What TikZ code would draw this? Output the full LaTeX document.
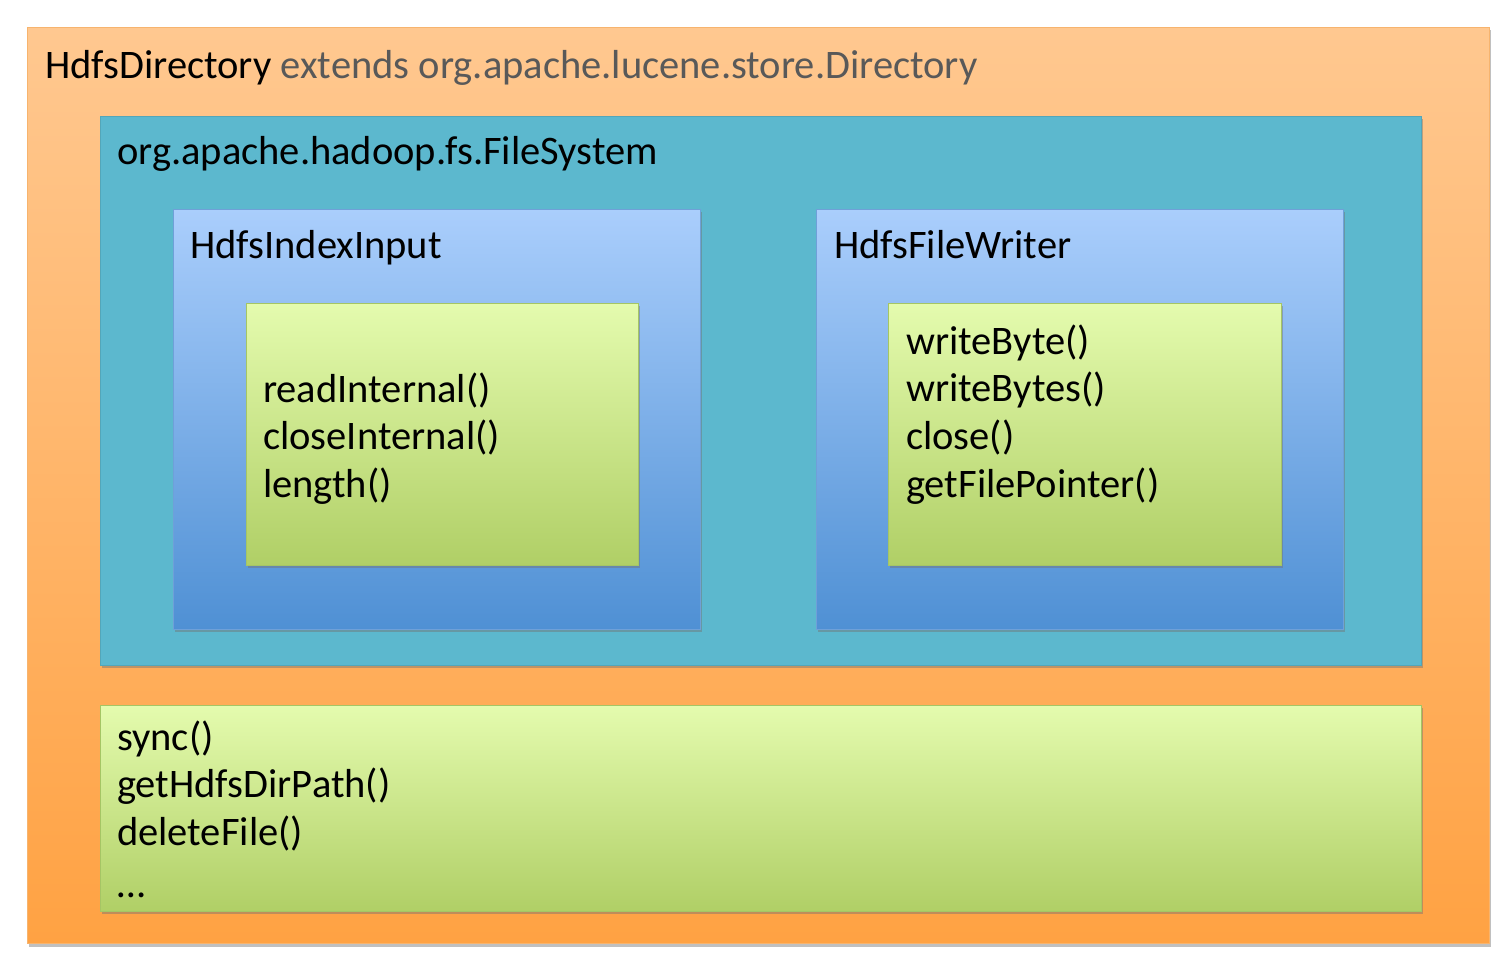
\documentclass[tikz,border=0pt]{standalone}
\usepackage{fontspec}
\setmainfont{Carlito}
\usetikzlibrary{shadows}
\definecolor{orTop}{HTML}{FFC890}
\definecolor{orBot}{HTML}{FFA243}
\definecolor{orLine}{HTML}{F7B46E}
\definecolor{teal}{HTML}{5CB8CE}
\definecolor{blTop}{HTML}{AACEFC}
\definecolor{blBot}{HTML}{4F90D4}
\definecolor{blLine}{HTML}{6FA0D8}
\definecolor{grTop}{HTML}{E4FBAE}
\definecolor{grBot}{HTML}{B0CF66}
\definecolor{grLine}{HTML}{A5C565}
\definecolor{greyTxt}{HTML}{595959}
\tikzset{
  shbox/.style={rectangle, inner sep=0pt, anchor=north west,
    drop shadow={shadow xshift=1.5pt, shadow yshift=-3pt, opacity=0.45, fill=black!55}},
  outerbox/.style={shbox, draw=orLine, line width=1pt, top color=orTop, bottom color=orBot},
  fsbox/.style={shbox, draw=teal!90!black, line width=0.6pt, fill=teal},
  clsbox/.style={shbox, draw=blLine, line width=0.8pt, top color=blTop, bottom color=blBot},
  methbox/.style={shbox, draw=grLine, line width=0.8pt, top color=grTop, bottom color=grBot},
  txt/.style={anchor=base west, inner sep=0pt, font=\fontsize{40.5}{48}\selectfont, text=black},
}
\begin{document}
\begin{tikzpicture}[x=1pt,y=-1pt]
\useasboundingbox (0,0) rectangle (1508,966);
% boxes
\node[outerbox, minimum width=1462pt, minimum height=916pt] (outer) at (27,27) {};
\node[fsbox, minimum width=1321pt, minimum height=549pt] (fs) at (100,116) {};
\node[clsbox, minimum width=527pt, minimum height=420pt] (input) at (173,209) {};
\node[clsbox, minimum width=527pt, minimum height=420pt] (writer) at (816,209) {};
\node[methbox, minimum width=392pt, minimum height=262pt] (inmeth) at (246,303) {};
\node[methbox, minimum width=393pt, minimum height=262pt] (wrmeth) at (888,303) {};
\node[methbox, minimum width=1321pt, minimum height=206pt] (dirmeth) at (100,705) {};
% texts
\node[txt] (t1) at (45,78) {HdfsDirectory \textcolor{greyTxt}{extends org.apache.lucene.store.Directory}};
\node[txt] (t2) at (117,164) {org.apache.hadoop.fs.FileSystem};
\node[txt] (t3) at (190,258) {HdfsIndexInput};
\node[txt] (t4) at (834,258) {HdfsFileWriter};
\node[txt] (a1) at (263,402) {readInternal()};
\node[txt] (a2) at (263,449) {closeInternal()};
\node[txt] (a3) at (263,497) {length()};
\node[txt] (b1) at (906,354) {writeByte()};
\node[txt] (b2) at (906,401) {writeBytes()};
\node[txt] (b3) at (906,449) {close()};
\node[txt] (b4) at (906,497) {getFilePointer()};
\node[txt] (c1) at (117,750) {sync()};
\node[txt] (c2) at (117,797) {getHdfsDirPath()};
\node[txt] (c3) at (117,845) {deleteFile()};
\node[txt] (c4) at (117,897) {\ldots};
\end{tikzpicture}
\end{document}
